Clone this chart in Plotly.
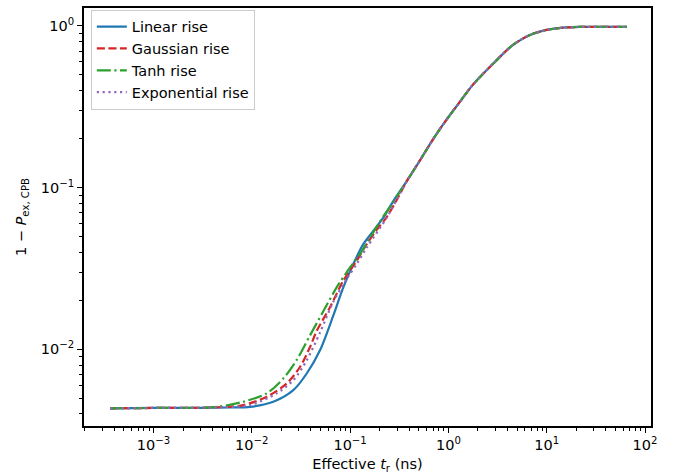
import plotly.graph_objects as go

# ---- data (x: effective rise time in ns, y: 1 - P_ex,CPB)
tail_x = [0.377, 0.514, 0.697, 0.961, 1.312, 1.778, 2.843, 4.54, 6.76, 10.0, 14.65, 21.8, 65.6]
tail_y = [0.1097, 0.1476, 0.199, 0.264, 0.340, 0.4335, 0.583, 0.764, 0.880, 0.945, 0.976, 0.986, 0.987]

linear_x = [3.61e-4, 1e-3, 0.00297, 0.006, 0.00959, 0.01656, 0.02644, 0.0362, 0.0494,
            0.0675, 0.0853, 0.1078, 0.1362, 0.1722, 0.2177, 0.275]
linear_y = [0.00432, 0.00434, 0.00435, 0.00437, 0.00441, 0.00474, 0.00559, 0.00709, 0.00986,
            0.0162, 0.02417, 0.03368, 0.0447, 0.054, 0.0652, 0.0826]

gauss_x = [3.61e-4, 1e-3, 0.00297, 0.005, 0.00819, 0.01418, 0.02265, 0.0309, 0.0391, 0.0457,
           0.0624, 0.0853, 0.1167, 0.1475, 0.1866, 0.2356, 0.298]
gauss_y = [0.00432, 0.00434, 0.00435, 0.00440, 0.00452, 0.00509, 0.00615, 0.00778, 0.01033, 0.0130,
           0.0182, 0.0266, 0.0353, 0.0447, 0.0548, 0.0658, 0.0838]

tanh_x = [3.61e-4, 1e-3, 0.00297, 0.0047, 0.00819, 0.01418, 0.02091, 0.02862, 0.0391,
          0.0534, 0.0730, 0.0998, 0.1261, 0.1594, 0.2177, 0.275]
tanh_y = [0.00432, 0.00434, 0.00435, 0.00443, 0.00474, 0.00534, 0.0066, 0.0086, 0.0122,
          0.0172, 0.02417, 0.0321, 0.0388, 0.0491, 0.0664, 0.0815]

expo_x = [3.61e-4, 1e-3, 0.00297, 0.0052, 0.00959, 0.01792, 0.02644, 0.0362, 0.0494,
          0.0675, 0.0923, 0.1167, 0.1475, 0.2356]
expo_y = [0.00432, 0.00434, 0.00435, 0.00439, 0.00452, 0.00534, 0.00645, 0.00855, 0.0127,
          0.0197, 0.0272, 0.03368, 0.0426, 0.0652]

series_names = ["Linear rise", "Gaussian rise", "Tanh rise", "Exponential rise"]

x_tick_vals = [1e-3, 1e-2, 1e-1, 1e0, 1e1, 1e2]
x_tick_text = ["10<sup>\u22123</sup>", "10<sup>\u22122</sup>", "10<sup>\u22121</sup>",
               "10<sup>0</sup>", "10<sup>1</sup>", "10<sup>2</sup>"]
y_tick_vals = [1e-2, 1e-1, 1e0]
y_tick_text = ["10<sup>\u22122</sup>", "10<sup>\u22121</sup>", "10<sup>0</sup>"]

# ---- styling
FONT = "DejaVu Sans"
FS = 14.5
LW = 2.2
colors = ["#1f77b4", "#d62728", "#2ca02c", "#9467bd"]
dashes = ["solid", "8.1px,3.5px", "14px,3.5px,2.2px,3.5px", "2.2px,3.6px"]

xs = [linear_x + tail_x, gauss_x + tail_x, tanh_x + tail_x, expo_x + tail_x]
ys = [linear_y + tail_y, gauss_y + tail_y, tanh_y + tail_y, expo_y + tail_y]

fig = go.Figure()
for name, x, y, c, d in zip(series_names, xs, ys, colors, dashes):
    fig.add_trace(go.Scatter(x=x, y=y, mode="lines", name=name,
                             line=dict(color=c, width=LW, dash=d, shape="spline", smoothing=0.8)))

minor_vals = [m * 10 ** e for e in range(-5, 3) for m in range(2, 10)]

axis_common = dict(
    type="log",
    showline=True, linecolor="black", linewidth=1.8, mirror=True,
    ticks="outside", ticklen=5, tickwidth=1.2, tickcolor="black",
    showgrid=False, zeroline=False,
    tickfont=dict(family=FONT, size=FS, color="black"),
    minor=dict(ticks="outside", ticklen=3, tickwidth=0.9, tickcolor="black",
               tickmode="array", tickvals=minor_vals, showgrid=False),
    tickmode="array",
)

fig.update_layout(
    width=686, height=476,
    margin=dict(l=84, r=35, t=6, b=50),
    paper_bgcolor="white", plot_bgcolor="white",
    font=dict(family=FONT, size=FS, color="black"),
    showlegend=True,
    legend=dict(x=0.012, y=0.996, xanchor="left", yanchor="top",
                bgcolor="rgba(255,255,255,0.8)", bordercolor="#cccccc", borderwidth=1,
                font=dict(family=FONT, size=FS, color="black"),
                tracegroupgap=0, itemwidth=30),
    xaxis=dict(axis_common, range=[-3.707, 2.061], tickvals=x_tick_vals, ticktext=x_tick_text,
               title=dict(text="Effective <i>t</i><sub>r</sub> (ns)", standoff=7,
                          font=dict(family=FONT, size=FS, color="black"))),
    yaxis=dict(axis_common, range=[-2.474, 0.111], tickvals=y_tick_vals, ticktext=y_tick_text,
               title=dict(text="1 \u2212 <i>P</i><sub>ex, CPB</sub>", standoff=11,
                          font=dict(family=FONT, size=FS, color="black"))),
)

fig.write_html("out.html")
